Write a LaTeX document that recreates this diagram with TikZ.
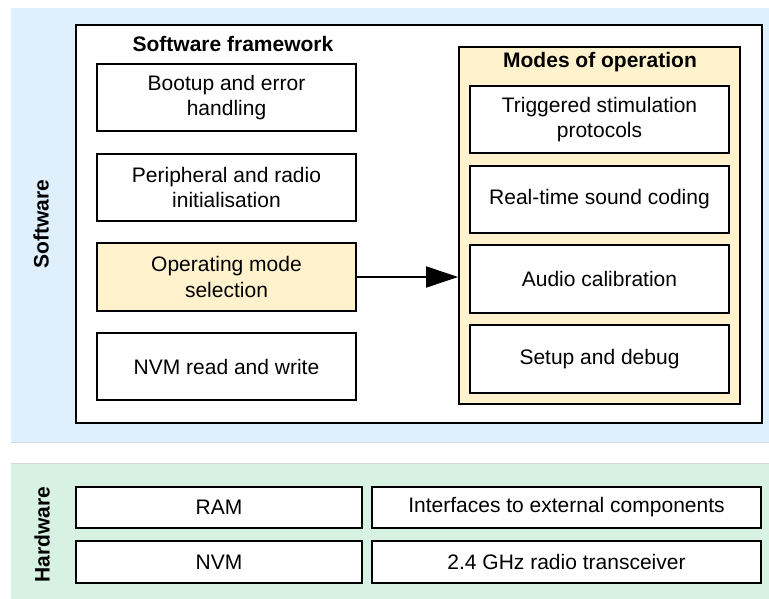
\documentclass[tikz,border=0pt]{standalone}
\usepackage{fontspec}
\setmainfont{Liberation Sans}
\usetikzlibrary{arrows.meta}
\definecolor{swbg}{HTML}{E0EFFC}
\definecolor{hwbg}{HTML}{D7F1E3}
\definecolor{modefill}{HTML}{FFF2CC}
\definecolor{edgegray}{HTML}{D4D8DC}
\tikzset{
  every node/.style={font=\fontsize{21}{25.5}\selectfont},
  blockbox/.style={draw=black, line width=1.8pt, fill=white, rectangle,
    inner sep=0pt, align=center},
  groupbox/.style={draw=black, line width=1.8pt, rectangle, inner sep=0pt},
  heading/.style={font=\fontsize{21}{25.5}\selectfont\bfseries, inner sep=0pt},
  sidelabel/.style={font=\fontsize{21}{25.5}\selectfont\bfseries, rotate=90, inner sep=0pt},
  flow/.style={line width=1.8pt, -{Triangle[length=32pt,width=21pt]}}
}
\begin{document}
\begin{tikzpicture}[x=1pt,y=-1pt]
\useasboundingbox (0,0) rectangle (769,599);

% layer backgrounds
\fill[swbg] (11,8) rectangle (769,442);
\draw[edgegray, line width=0.8pt] (11,442) -- (769,442);
\fill[hwbg] (11,463) rectangle (769,599);
\draw[edgegray, line width=0.8pt] (11,463) -- (769,463);

\node[sidelabel] (swlabel) at (41,224) {Software};
\node[sidelabel] (hwlabel) at (42,534.5) {Hardware};

% software framework
\node[groupbox, fill=white, minimum width=686, minimum height=398] (fw) at (419,224) {};
\node[heading] (fwtitle) at (233,44) {Software framework};

\node[blockbox, minimum width=259, minimum height=67] (boot) at (226.5,97.5)
  {Bootup and error\\handling};
\node[blockbox, minimum width=259, minimum height=67] (periph) at (226.5,187.5)
  {Peripheral and radio\\initialisation};
\node[blockbox, fill=modefill, minimum width=259, minimum height=68] (opsel) at (226.5,277)
  {Operating mode\\selection};
\node[blockbox, minimum width=259, minimum height=67] (nvmrw) at (226.5,366.5)
  {NVM read and write};

% modes of operation
\node[groupbox, fill=modefill, minimum width=281, minimum height=357] (modes) at (599.5,225.5) {};
\node[heading] (modestitle) at (600,62) {Modes of operation};

\node[blockbox, minimum width=259, minimum height=67] (trig) at (599.5,119.5)
  {Triggered stimulation\\protocols};
\node[blockbox, minimum width=259, minimum height=67] (sound) at (599.5,199.5)
  {Real-time sound coding};
\node[blockbox, minimum width=259, minimum height=68] (calib) at (599.5,279)
  {Audio calibration};
\node[blockbox, minimum width=259, minimum height=68] (debug) at (599.5,359)
  {Setup and debug};

\draw[flow] (opsel.east) -- (opsel.east -| modes.west);

% hardware
\node[blockbox, minimum width=286, minimum height=41] (ram) at (219,507.5) {RAM};
\node[blockbox, minimum width=286, minimum height=42] (nvm) at (219,562) {NVM};
\node[blockbox, minimum width=389, minimum height=41] (ifc) at (566.5,507.5)
  {Interfaces to external components};
\node[blockbox, minimum width=389, minimum height=42] (radio) at (566.5,562)
  {2.4 GHz radio transceiver};
\end{tikzpicture}
\end{document}
